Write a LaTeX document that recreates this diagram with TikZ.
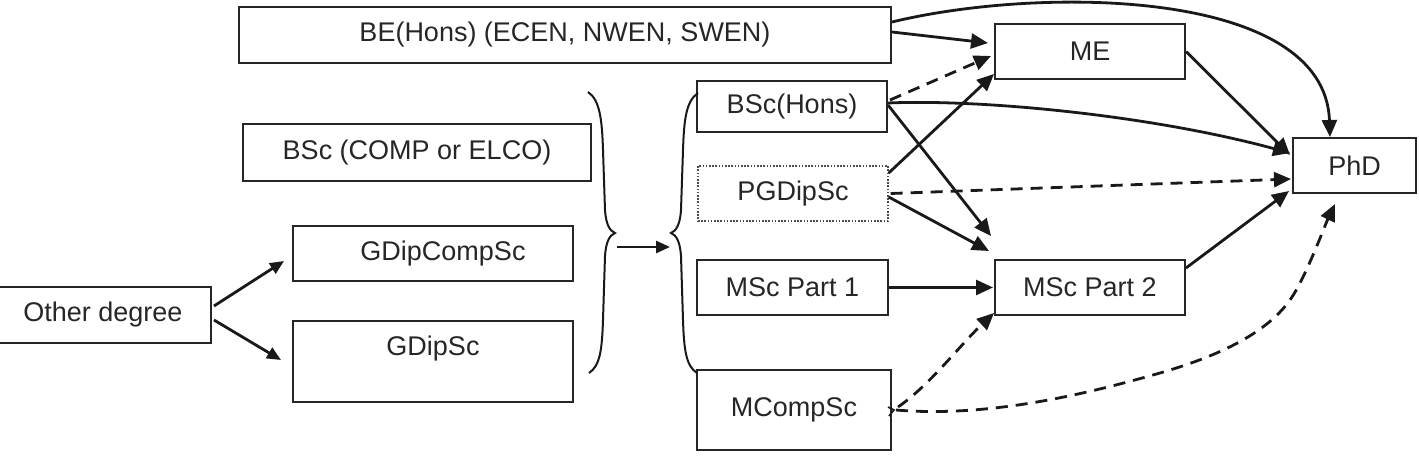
\documentclass[tikz,border=0pt]{standalone}
\usepackage{fontspec}
\setmainfont{Liberation Sans}
\usetikzlibrary{arrows.meta}
\begin{document}
\begin{tikzpicture}[x=1pt,y=-1pt,
  box/.style={draw=black!85, line width=2pt, rectangle, inner sep=0pt,
    font=\fontsize{27}{32}\selectfont, text=black!85},
  conn/.style={line width=2.8pt, draw=black!90, -{Triangle[length=17pt,width=15pt]}},
  dconn/.style={conn, dash pattern=on 12pt off 8pt},
  sconn/.style={line width=2.8pt, draw=black!90, -{Triangle[length=14pt,width=12pt]}},
  bracestyle/.style={line width=2pt, draw=black!90}]
\useasboundingbox (0,0) rectangle (1419,468);

% boxes
\node[box, minimum width=652pt, minimum height=56pt] (be) at (565,35) {BE(Hons) (ECEN, NWEN, SWEN)};
\node[box, minimum width=348pt, minimum height=57pt] (bsc) at (417,152.5) {BSc (COMP or ELCO)};
\node[box, minimum width=280pt, minimum height=55pt,
  label={[font=\fontsize{27}{32}\selectfont, text=black!85, xshift=10pt]center:GDipCompSc}] (gdipcomp) at (433,253.5) {};
\node[box, minimum width=280pt, minimum height=81pt,
  label={[font=\fontsize{27}{32}\selectfont, text=black!85, yshift=12.5pt]center:GDipSc}] (gdip) at (433,361.5) {};
\node[box, minimum width=216pt, minimum height=56pt] (other) at (103,315) {Other degree};
\node[box, minimum width=190pt, minimum height=51pt] (bsch) at (792,107) {BSc(Hons)};
\node[box, draw=black!70, line width=1.4pt, dash pattern=on 1.6pt off 1.6pt,
  minimum width=190pt, minimum height=55pt] (pgd) at (793,193.5) {PGDipSc};
\node[box, minimum width=191pt, minimum height=55pt] (msc1) at (792.5,287.5) {MSc Part 1};
\node[box, minimum width=194pt, minimum height=80pt] (mcomp) at (794,410) {MCompSc};
\node[box, minimum width=190pt, minimum height=55pt] (me) at (1090,51.5) {ME};
\node[box, minimum width=190pt, minimum height=55pt] (msc2) at (1090,287.5) {MSc Part 2};
\node[box, minimum width=123pt, minimum height=55pt] (phd) at (1354.5,165.5) {PhD};

% braces
\coordinate (lb) at (615,233);
\coordinate (rb) at (671,233);
\draw[bracestyle] (588,92) .. controls (600,100) and (602,120) .. (603,150)
  -- (605,210) .. controls (606,225) and (610,231) .. (lb)
  .. controls (610,235) and (606,241) .. (605,256)
  -- (603,320) .. controls (602,350) and (600,366) .. (589,373);
\draw[bracestyle] (698,93) .. controls (686,101) and (684,120) .. (683,150)
  -- (681,210) .. controls (680,225) and (676,231) .. (rb)
  .. controls (676,235) and (680,241) .. (681,256)
  -- (683,320) .. controls (684,350) and (686,366) .. (697,373);
\draw[sconn] ([shift={(2pt,-14pt)}]lb) -- ([shift={(-1pt,-14pt)}]rb);

% other degree
\draw[sconn] ([xshift=2pt,yshift=9pt]other.east) -- ([xshift=-8pt,yshift=-7.5pt]gdipcomp.west);
\draw[sconn] ([xshift=2pt,yshift=-5pt]other.east) -- ([xshift=-11pt,yshift=1.5pt]gdip.west);

% top right
\draw[conn] ([yshift=3pt]be.east) -- ([xshift=-6pt,yshift=8.5pt]me.west);
\draw[conn] ([yshift=13pt]be.east) .. controls (1040,-14) and (1325,-12) .. ([xshift=-24.5pt]phd.north);
\draw[dconn] ([xshift=2pt,yshift=7pt]bsch.east) -- ([xshift=-3pt,yshift=-4.5pt]me.west);
\draw[conn] ([yshift=20.5pt]pgd.east) -- ([yshift=-22.5pt]me.west);
\draw[conn] ([yshift=4pt]bsch.east) .. controls (980,99) and (1150,115) .. ([xshift=-2pt,yshift=12.5pt]phd.west);
\draw[conn] (me.east) -- ([xshift=-2pt,yshift=10.5pt]phd.west);
\draw[dconn] ([xshift=2pt]pgd.east) -- ([xshift=-1pt,yshift=-13.5pt]phd.west);
\draw[conn] ([yshift=2pt]bsch.east) -- ([xshift=-3pt,yshift=23pt]msc2.north west);
\draw[conn] ([yshift=-3.5pt]pgd.east) -- ([xshift=-5pt,yshift=8pt]msc2.north west);
\draw[conn] (msc1.east) -- ([xshift=-1pt]msc2.west);
\draw[conn] ([yshift=19.5pt]msc2.east) -- ([xshift=-3pt,yshift=3pt]phd.south west);
\draw[dconn] ([xshift=6pt,yshift=3pt]mcomp.east) .. controls (930,385) and (960,345) .. ([yshift=3pt]msc2.south west);
\draw[dconn] ([xshift=4pt]mcomp.east) .. controls (990,418) and (1090,393) .. (1160,373)
  .. controls (1215,357) and (1265,335) .. (1290,300)
  .. controls (1305,279) and (1325,225) .. ([xshift=-19.5pt,yshift=-10pt]phd.south);
\draw[line width=1.6pt, black!90] ([shift={(-4pt,3pt)}]mcomp.east) -- ([shift={(2pt,0pt)}]mcomp.east) -- ([shift={(-3pt,-6pt)}]mcomp.east);
\end{tikzpicture}
\end{document}
